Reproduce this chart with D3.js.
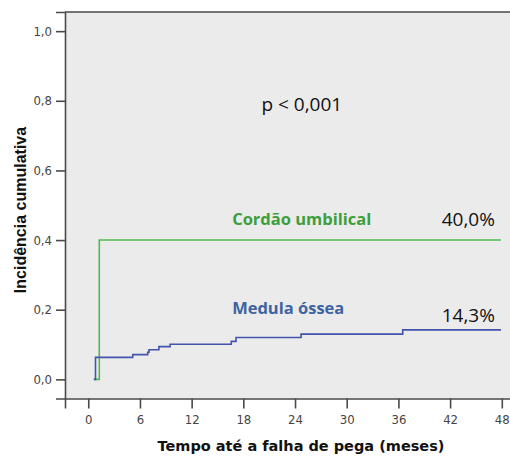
<!DOCTYPE html>
<html>
<head>
<meta charset="utf-8">
<script src="https://cdn.jsdelivr.net/npm/d3@7"></script>
<style>
  body { margin: 0; background: #fff; }
  .tick text { font-family: "Liberation Sans Narrow", "DejaVu Sans Condensed", "Liberation Sans", sans-serif; font-size: 13px; fill: #444; }
</style>
</head>
<body>
<div id="chart"></div>
<script>
// cumulative incidence of graft failure
var boneTimes = [0.65, 0.84, 5.16, 6.9, 7.05, 8.2, 9.5, 16.6, 17.15, 24.7, 36.5, 47.9];
var boneValues = [0, 0.063, 0.071, 0.078, 0.085, 0.094, 0.101, 0.109, 0.120, 0.130, 0.142, 0.142];
var cordTimes = [0.65, 1.28, 47.9];
var cordValues = [0, 0.40, 0.40];

var xTicks = [0, 6, 12, 18, 24, 30, 36, 42, 48];
var yTicks = [0, 0.2, 0.4, 0.6, 0.8, 1.0];

var width = 510,
    height = 457;

var svg = d3.select("#chart").append("svg")
    .attr("width", width)
    .attr("height", height);

var x = d3.scaleLinear()
    .domain([-2.7, 49.3])
    .range([65, 513]);

var y = d3.scaleLinear()
    .domain([-0.055, 1.055])
    .range([398.5, 12]);

// plot background
svg.append("rect")
    .attr("x", x.range()[0])
    .attr("y", y.range()[1])
    .attr("width", x.range()[1] - x.range()[0])
    .attr("height", y.range()[0] - y.range()[1])
    .style("fill", "#ebebeb");

var comma = function(d) { return d3.format(".1f")(d).replace(".", ","); };

var xAxis = svg.append("g")
    .attr("transform", "translate(0," + y.range()[0] + ")")
    .call(d3.axisBottom(x).tickValues(xTicks).tickSize(10).tickPadding(6));

var yAxis = svg.append("g")
    .attr("transform", "translate(" + x.range()[0] + ",0)")
    .call(d3.axisLeft(y).tickValues(yTicks).tickFormat(comma).tickSize(9).tickPadding(4));

[xAxis, yAxis].forEach(function(a) {
  a.select(".domain").style("stroke", "#4a4a4a").style("stroke-width", 1.6);
  a.selectAll(".tick line").style("stroke", "#4a4a4a").style("stroke-width", 1.6);
});

// top border
svg.append("line")
    .attr("x1", x.range()[0]).attr("x2", x.range()[1])
    .attr("y1", y.range()[1]).attr("y2", y.range()[1])
    .style("stroke", "#4a4a4a").style("stroke-width", 1.6);

var step = d3.line()
    .x(function(d) { return x(d[0]); })
    .y(function(d) { return y(d[1]); })
    .curve(d3.curveStepAfter);

svg.append("path")
    .datum(d3.zip(cordTimes, cordValues))
    .attr("d", step)
    .style("fill", "none")
    .style("stroke", "#4cbc4c")
    .style("stroke-width", 1.6);

svg.append("path")
    .datum(d3.zip(boneTimes, boneValues))
    .attr("d", step)
    .style("fill", "none")
    .style("stroke", "#4254ac")
    .style("stroke-width", 1.6);

// annotations
var label = function(tx, ty, txt, color, size, weight, anchor) {
  svg.append("text")
      .attr("x", x(tx))
      .attr("y", y(ty))
      .attr("text-anchor", anchor || "start")
      .style("font-family", "'Open Sans', 'Noto Sans', sans-serif")
      .style("font-size", size + "px")
      .style("font-weight", weight)
      .style("fill", color)
      .text(txt);
};

label(16.7, 0.444, "Cordão umbilical", "#3c9e3c", 16.5, "bold");
label(47.2, 0.439, "40,0%", "#111", 19, "normal", "end");
label(16.7, 0.188, "Medula óssea", "#3d64a0", 16.5, "bold");
label(47.2, 0.165, "14,3%", "#111", 19, "normal", "end");
label(20.1, 0.77, "p < 0,001", "#111", 19, "normal");

// axis titles
svg.append("text")
    .attr("x", 301)
    .attr("y", 451)
    .attr("text-anchor", "middle")
    .style("font-family", "'DejaVu Sans', sans-serif")
    .style("font-size", "14.5px")
    .style("font-weight", "bold")
    .style("fill", "#111")
    .text("Tempo até a falha de pega (meses)");

svg.append("text")
    .attr("transform", "translate(26," + 210 + ") rotate(-90)")
    .attr("text-anchor", "middle")
    .style("font-family", "'Liberation Sans', Arial, sans-serif")
    .style("font-size", "16px")
    .style("font-weight", "bold")
    .style("fill", "#111")
    .text("Incidência cumulativa");
</script>
</body>
</html>
